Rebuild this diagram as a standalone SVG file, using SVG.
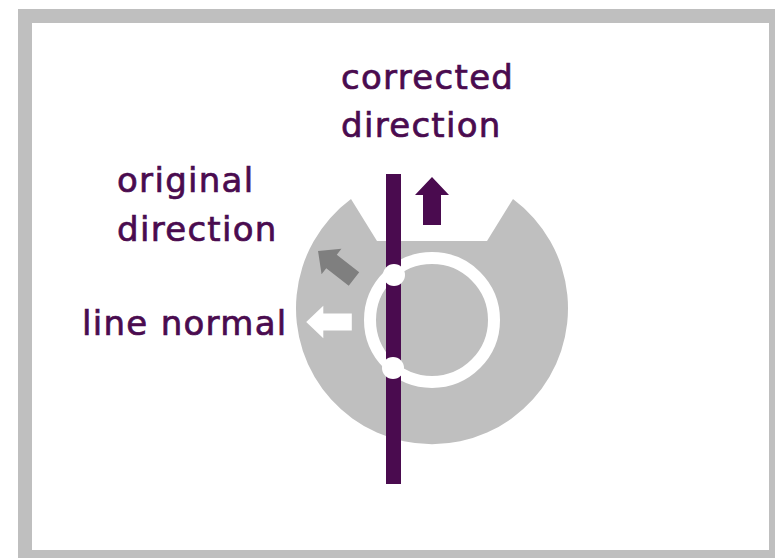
<svg xmlns="http://www.w3.org/2000/svg" width="775" height="558" viewBox="0 0 775 558">
<style>
.lbl{font-family:"DejaVu Sans","Liberation Sans",sans-serif;font-size:34px;fill:#4a0b4f;stroke:#4a0b4f;stroke-width:0.7px;letter-spacing:1.3px}
</style>
<defs>
<path id="arr" d="M0,-24 L17,-6 L9,-6 L9,24 L-9,24 L-9,-6 L-17,-6 Z"/>
</defs>
<rect x="18" y="9" width="757" height="549" fill="#bfbfbf"/>
<rect x="32" y="23" width="737" height="527" fill="#ffffff"/>
<g id="disc">
<path d="M351,199 L377,241 L487,241 L513,199 A136,136 0 1 1 351,199 Z" fill="#bfbfbf"/>
</g>
<g id="ring">
<circle cx="432" cy="320" r="62" fill="none" stroke="#ffffff" stroke-width="12"/>
</g>
<g id="connectors">
<rect x="386" y="174" width="15" height="310" fill="#4a0b4f"/>
</g>
<g id="points">
<circle cx="394" cy="275" r="11" fill="#ffffff"/>
<circle cx="393" cy="368" r="11" fill="#ffffff"/>
</g>
<g id="corrected-arrow">
<use href="#arr" transform="translate(432,201)" fill="#4a0b4f"/>
</g>
<g id="original-arrow">
<use href="#arr" transform="translate(336,265) rotate(-52) scale(0.95)" fill="#7f7f7f"/>
</g>
<g id="normal-arrow">
<use href="#arr" transform="translate(329,322) rotate(-90) scale(0.95)" fill="#ffffff"/>
</g>
<g id="labels">
<text class="lbl" x="341" y="89">corrected</text>
<text class="lbl" x="341" y="137">direction</text>
<text class="lbl" x="117" y="192">original</text>
<text class="lbl" x="117" y="241">direction</text>
<text class="lbl" x="82" y="335">line normal</text>
</g>
</svg>
